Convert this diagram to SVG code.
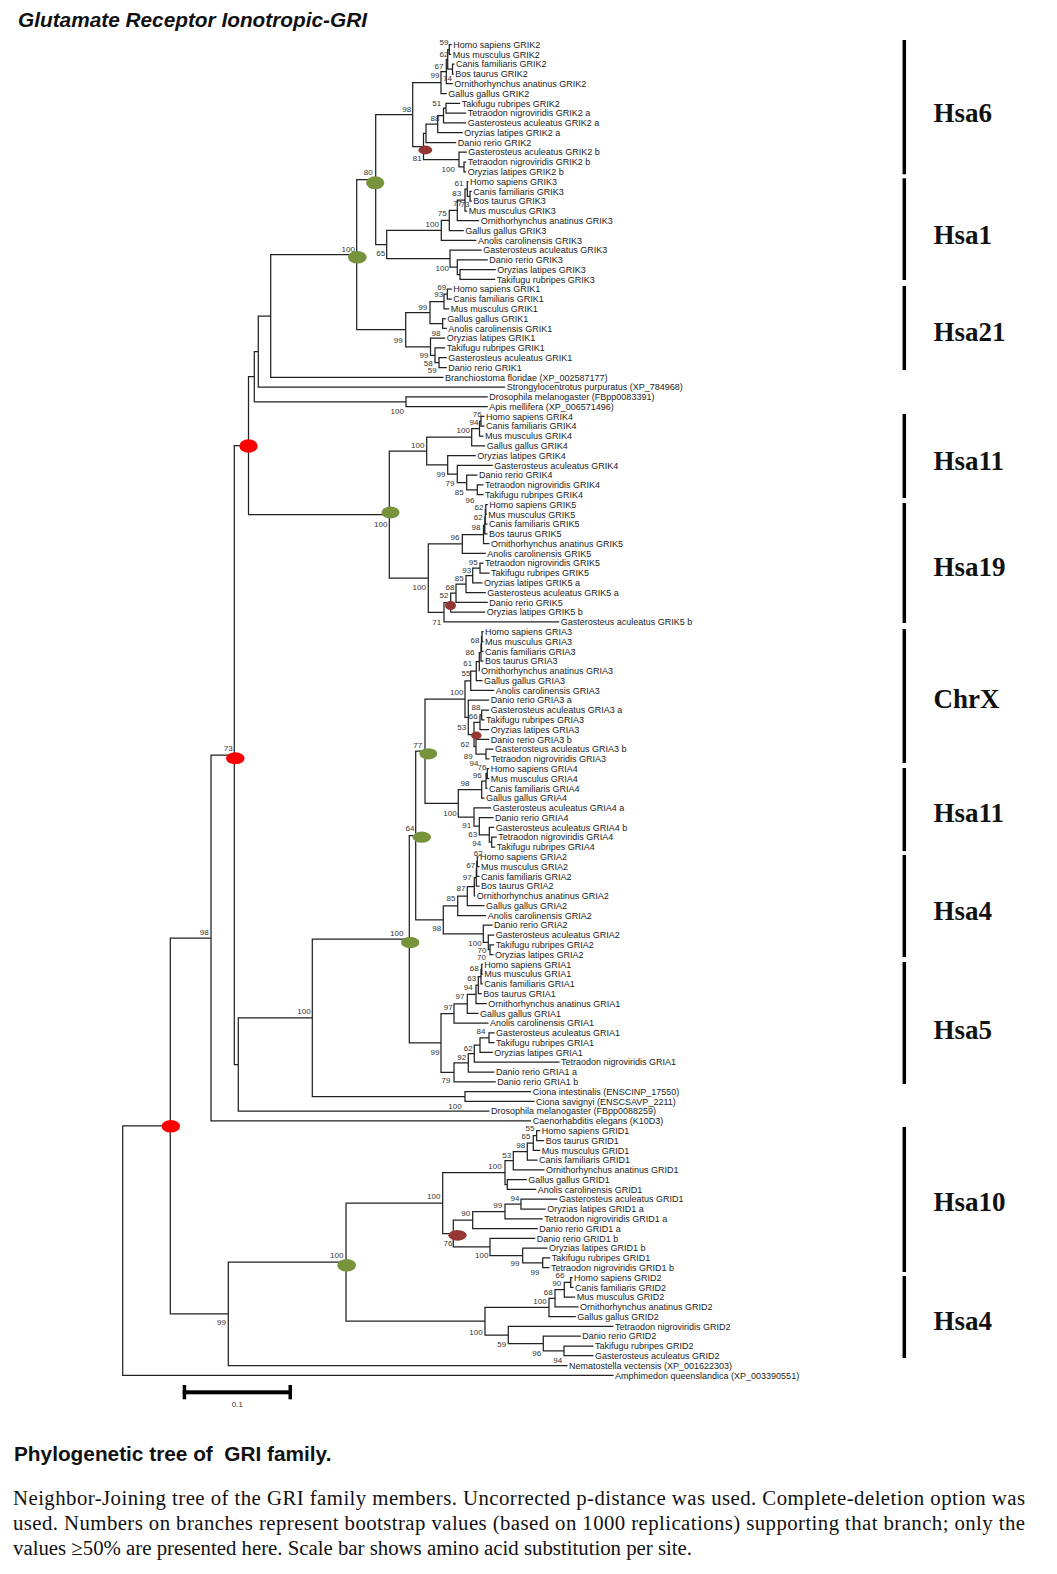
<svg xmlns="http://www.w3.org/2000/svg" width="1057" height="1574" viewBox="0 0 1057 1574">
<style>
.br{fill:none;stroke:#222;stroke-width:1.25}
.lf{font-family:"Liberation Sans",Arial,sans-serif;font-size:9px;fill:#222}
.bs{font-family:"Liberation Sans",Arial,sans-serif;font-size:8px;fill:#333;text-anchor:middle}
.chr{font-family:"Liberation Serif","Times New Roman",serif;font-size:27px;font-weight:bold;fill:#111}
.bar{stroke:#000;stroke-width:3.5}
.g{fill:#77933C}.r{fill:#FF0000}.b{fill:#943634}
.cap{font-family:"Liberation Serif","Times New Roman",serif;font-size:20.8px;fill:#111}
</style>
<rect width="1057" height="1574" fill="#fff"/>
<text x="18" y="27" font-family="Liberation Sans,Arial,sans-serif" font-size="20.8" font-weight="bold" font-style="italic" fill="#111">Glutamate Receptor Ionotropic-GRI</text>
<g id="connectors" class="br">
<path d="M451.8,44.6H449.3V54.4H451.2M454.5,64.2H452.5V74H453.8M449.3,49.5H447.7V69.1H452.5M447.7,59.3H446.3V83.7H452.8M446.3,71.5H441V93.5H446.8M460.2,103.3H446V113.1H466.2M446,108.2H443.5V122.9H466.2M443.5,115.6H437.7V132.7H462.8M437.7,124.2H426V142.5H456.2M466.2,162H464V171.8H466.2M466.8,152.2H459V166.9H464M426,133.3H423.5V159.6H459M441,82.5H412.7V146.5H423.5"/>
<path d="M471.8,191.4H470V201.2H471.8M468.5,181.6H467.3V196.3H470M467.3,189H465V211H467.2M465,200H457.3V220.7H479.2M457.3,210.4H449.3V230.5H463.8M449.3,220.4H441.3V240.3H476.5M495.8,269.7H460V279.4H495.2M487.8,259.9H457.3V274.6H460M481.8,250.1H450V267.2H457.3M441.3,230.4H386.7V258.7H450M412.7,114.5H375.7V244.5H386.7"/>
<path d="M451.8,289.2H447.3V299H451.8M447.3,294.1H444V308.8H449.2M445.8,318.6H442.7V328.4H446.8M444,301.5H430V323.5H442.7M446.8,357.7H439V367.5H446.8M445.2,347.9H435V362.6H439M445.2,338.2H430.5V355.3H435M430,312.5H405.7V346.8H430.5M375.7,179.5H356.7V329.6H405.7M356.7,254.6H270.7V377.3H443.5M270.7,316H258.3V387.1H505.2M487.8,396.9H406V406.7H487.8M258.3,351.5H254.3V401.8H406M254.3,376.7H248.5V514.6H389.3"/>
<path d="M484.5,416.4H481V426.2H484.5M481,421.3H479.5V436H483.5M479.5,428.7H471.7V445.8H485.2M483.5,484.9H477.3V494.7H483.5M477.5,475.2H466.7V489.8H477.3M492.8,465.4H457.3V482.5H466.7M475.8,455.6H447.7V474H457.3M471.7,437.2H426.7V464.8H447.7"/>
<path d="M487.8,504.5H485.8V514.3H486.8M485.8,509.4H485.3V524.1H487.5M485.3,516.8H484.8V533.9H487.5M484.8,525.3H483.5V543.6H489.5M483.5,534.5H462.3V553.4H485.8M483.5,563.2H480V573H489.5M480,568.1H472.7V582.8H482.5M472.7,575.5H466V592.6H485.8M466,584H456V602.4H487.8M456,593.2H450.7V612.1H485.2M450.7,602.7H444V621.9H559.2M462.3,543.9H428.3V612.3H444M426.7,451H389.3V578.1H428.3"/>
<path d="M483.5,631.7H482V641.5H483.5M482,636.6H481.5V651.3H483.5M481.5,644H481V661.1H483.5M481,652.5H479.3V670.8H479.5M479.3,661.7H476.3V680.6H482.5M476.3,671.1H470.7V690.4H494.2M489.2,710H481.7V719.8H484.5M481.7,714.9H480V729.6H489.2M493.5,749.1H486V758.9H489.5M489.2,739.3H476V754H486M480,722.3H474V746.7H476M489.2,700.2H468.3V734.5H474M470.7,680.8H465V717.3H468.3"/>
<path d="M489.2,768.7H487.3V778.5H489.2M487.3,773.6H486V788.3H487.5M486,781H481.7V798H484.5M496.8,837.2H491.7V847H495.2M494.2,827.4H489.3V842.1H491.7M493.5,817.6H479.3V834.8H489.3M491.2,807.8H474V826.2H479.3M481.7,789.5H458.3V817H474M465,699H425V803.3H458.3"/>
<path d="M478.5,856.8H477.3V866.5H479.5M477.3,861.7H476.7V876.3H479.5M476.7,869H476.3V886.1H479.5M476.3,877.6H474.3V895.9H475.2M474.3,886.7H467.3V905.7H484.5M467.3,896.2H457.7V915.5H486.2M494.2,944.8H490V954.6H493.5M494.2,935H488.3V949.7H490M492.5,925.2H483.3V942.4H488.3M457.7,905.9H443.3V933.8H483.3M425,751.1H415.7V919.8H443.3"/>
<path d="M482.8,964.4H481.7V974.2H482.8M481.7,969.3H481V983.9H482.8M481,976.6H478.3V993.7H481.8M478.3,985.2H476V1003.5H486.8M476,994.3H467.3V1013.3H478.5M467.3,1003.8H454V1023.1H488.5M494.5,1032.9H489V1042.7H494.5M489,1037.8H480V1052.4H492.8M480,1045.1H474.3V1062.2H559.5M474.3,1053.7H468.3V1072H494.5M468.3,1062.8H454V1081.8H495.8M454,1013.5H441V1072.3H454M415.7,835.5H409.3V1042.9H441M531.2,1091.6H465V1101.4H534.5M409.3,939.2H312.3V1096.5H465M312.3,1017.9H238.3V1111.1H489.5M248.5,445.6H234.3V1064.5H238.3M234.3,755.1H211V1120.9H531.2"/>
<path d="M540.2,1130.7H536.7V1140.5H544.2M536.7,1135.6H533.3V1150.3H540.2M533.3,1143H527.3V1160.1H537.5M527.3,1151.5H513.3V1169.8H544.5M526.8,1179.6H507.3V1189.4H536.2M513.3,1160.7H505V1184.5H507.3M557.5,1199.2H521V1209H545.8M521,1204.1H505V1218.8H542.8M505,1211.5H472.7V1228.5H537.8M550.2,1257.9H542.7V1267.7H549.5M547.5,1248.1H522.7V1262.8H542.7M535.2,1238.3H490V1255.5H522.7M472.7,1220H453.3V1246.9H490M505,1172.6H442.7V1233.5H453.3"/>
<path d="M572.5,1277.5H570.7V1287.3H573.5M570.7,1282.4H564.3V1297H575.2M564.3,1289.7H555V1306.8H578.5M555,1298.3H549V1316.6H575.8M593.5,1346H564V1355.7H593.5M580.8,1336.2H543.3V1350.9H564M613.5,1326.4H508.3V1343.5H543.3M549,1307.4H485V1335H508.3M442.7,1203H346V1321.2H485M346,1262.1H228.3V1365.5H567.5M211,938H170.3V1313.8H228.3M170.3,1125.9H122.7V1375.3H613.5"/>
</g>
<g id="node-markers">
<ellipse class="g" cx="375.2" cy="182.8" rx="9.2" ry="6.5"/>
<ellipse class="g" cx="357.3" cy="257.3" rx="9.3" ry="6.3"/>
<ellipse class="b" cx="425.3" cy="150" rx="7" ry="4.4"/>
<ellipse class="r" cx="248.5" cy="446" rx="9.2" ry="6.7"/>
<ellipse class="g" cx="390.5" cy="512.5" rx="9" ry="6"/>
<ellipse class="b" cx="450.5" cy="605.5" rx="5.5" ry="4.5"/>
<ellipse class="r" cx="235.3" cy="758.3" rx="9.3" ry="6"/>
<ellipse class="g" cx="428.3" cy="753.8" rx="9" ry="5.6"/>
<ellipse class="b" cx="476.3" cy="735.5" rx="5.3" ry="3.9"/>
<ellipse class="g" cx="421.8" cy="837.2" rx="9.2" ry="5.6"/>
<ellipse class="g" cx="410.2" cy="942.5" rx="9.2" ry="5.8"/>
<ellipse class="r" cx="170.8" cy="1126.3" rx="9.2" ry="6.3"/>
<ellipse class="b" cx="457.5" cy="1235.3" rx="9.2" ry="5.4"/>
<ellipse class="g" cx="346.7" cy="1265.3" rx="9.3" ry="6.3"/>
</g>
<g id="bootstrap" class="bs">
<text x="444" y="44.6">59</text><text x="444" y="56.9">62</text><text x="439" y="68.6">67</text><text x="435" y="77.9">99</text><text x="447.5" y="81.2">74</text><text x="406.7" y="111.9">98</text><text x="436.7" y="106.2">51</text><text x="435" y="121.2">88</text><text x="417.3" y="160.6">81</text><text x="448.3" y="172.2">100</text><text x="368.3" y="174.6">80</text>
<text x="459" y="185.6">61</text><text x="456.7" y="195.6">83</text><text x="457.5" y="205.6">77</text><text x="465" y="207.4">73</text><text x="442.3" y="216.2">75</text><text x="432.3" y="226.9">100</text><text x="380.7" y="256.2">65</text><text x="442.3" y="270.6">100</text><text x="348.3" y="251.9">100</text>
<text x="441.7" y="290.2">69</text><text x="438.7" y="296.9">93</text><text x="422.7" y="309.6">99</text><text x="436" y="335.6">98</text><text x="398.3" y="342.9">99</text><text x="424" y="357.9">99</text><text x="428.3" y="365.6">58</text><text x="432.3" y="372.9">59</text><text x="397.3" y="414.2">100</text>
<text x="477.3" y="417.2">76</text><text x="474" y="424.6">94</text><text x="463.3" y="432.9">100</text><text x="417.7" y="447.6">100</text><text x="441" y="477.2">99</text><text x="450" y="486.2">79</text><text x="459.3" y="495.2">85</text><text x="470" y="502.9">96</text>
<text x="479" y="509.6">62</text><text x="478.3" y="519.6">62</text><text x="476" y="529.6">98</text><text x="455" y="539.6">96</text><text x="380.7" y="526.6">100</text><text x="473.3" y="564.6">95</text><text x="466.7" y="572.9">93</text><text x="459.3" y="580.6">85</text><text x="450" y="590.2">68</text><text x="444" y="597.9">52</text><text x="419.3" y="590.2">100</text><text x="436.7" y="624.6">71</text>
<text x="228.3" y="751.2">73</text>
<text x="475" y="642.9">68</text><text x="470" y="655.2">86</text><text x="467.7" y="665.6">61</text><text x="466" y="676.2">55</text><text x="456.7" y="694.6">100</text><text x="476" y="710.2">88</text><text x="473.3" y="718.6">66</text><text x="461.7" y="729.6">53</text><text x="465" y="746.9">62</text><text x="468.3" y="758.9">89</text><text x="417.8" y="747.6">77</text>
<text x="474" y="765.6">94</text><text x="482" y="770.2">76</text><text x="477.3" y="778.4">96</text><text x="465" y="785.6">98</text><text x="450" y="815.6">100</text><text x="466.7" y="827.9">91</text><text x="472.7" y="837.2">63</text><text x="476.7" y="845.6">94</text><text x="478.3" y="855.6">62</text><text x="410" y="831.2">64</text>
<text x="470.7" y="867.9">67</text><text x="467.3" y="879.6">97</text><text x="461" y="891.2">87</text><text x="451" y="901.2">85</text><text x="436.7" y="931.2">98</text><text x="396.7" y="936.2">100</text><text x="475" y="946.2">100</text><text x="482" y="952.6">70</text><text x="481.5" y="960.4">70</text>
<text x="474.3" y="970.6">68</text><text x="471.7" y="980.6">63</text><text x="468.3" y="989.6">94</text><text x="460" y="998.6">97</text><text x="448.3" y="1009.6">97</text><text x="481" y="1033.9">84</text><text x="468.3" y="1050.6">62</text><text x="461.7" y="1059.6">92</text><text x="435" y="1054.6">99</text><text x="446" y="1082.9">79</text>
<text x="204.3" y="934.6">98</text><text x="304" y="1013.6">100</text><text x="455" y="1108.9">100</text>
<text x="530" y="1131.2">55</text><text x="526" y="1138.9">65</text><text x="520.7" y="1147.9">98</text><text x="506.7" y="1157.9">53</text><text x="495" y="1168.9">100</text><text x="433.7" y="1198.9">100</text><text x="515" y="1201.2">94</text><text x="497.7" y="1207.9">99</text><text x="465.7" y="1216.2">90</text><text x="448" y="1245.9">76</text><text x="481.7" y="1257.9">100</text><text x="515" y="1266.2">99</text><text x="535" y="1274.6">99</text>
<text x="336.7" y="1257.9">100</text>
<text x="560" y="1277.9">66</text><text x="556.7" y="1286.2">90</text><text x="548.3" y="1294.6">68</text><text x="540" y="1303.6">100</text><text x="476" y="1334.6">100</text><text x="501.7" y="1347.2">59</text><text x="536.7" y="1355.6">96</text><text x="557.7" y="1362.9">94</text>
<text x="221.5" y="1325.4">99</text>
</g>
<g id="leaves" class="lf">
<text x="453.3" y="47.8">Homo sapiens GRIK2</text>
<text x="452.7" y="57.6">Mus musculus GRIK2</text>
<text x="456" y="67.4">Canis familiaris GRIK2</text>
<text x="455.3" y="77.2">Bos taurus GRIK2</text>
<text x="454.3" y="86.9">Ornithorhynchus anatinus GRIK2</text>
<text x="448.3" y="96.7">Gallus gallus GRIK2</text>
<text x="461.7" y="106.5">Takifugu rubripes GRIK2</text>
<text x="467.7" y="116.3">Tetraodon nigroviridis GRIK2 a</text>
<text x="467.7" y="126.1">Gasterosteus aculeatus GRIK2 a</text>
<text x="464.3" y="135.9">Oryzias latipes GRIK2 a</text>
<text x="457.7" y="145.7">Danio rerio GRIK2</text>
<text x="468.3" y="155.4">Gasterosteus aculeatus GRIK2 b</text>
<text x="467.7" y="165.2">Tetraodon nigroviridis GRIK2 b</text>
<text x="467.7" y="175">Oryzias latipes GRIK2 b</text>
<text x="470" y="184.8">Homo sapiens GRIK3</text>
<text x="473.3" y="194.6">Canis familiaris GRIK3</text>
<text x="473.3" y="204.4">Bos taurus GRIK3</text>
<text x="468.7" y="214.2">Mus musculus GRIK3</text>
<text x="480.7" y="223.9">Ornithorhynchus anatinus GRIK3</text>
<text x="465.3" y="233.7">Gallus gallus GRIK3</text>
<text x="478" y="243.5">Anolis carolinensis GRIK3</text>
<text x="483.3" y="253.3">Gasterosteus aculeatus GRIK3</text>
<text x="489.3" y="263.1">Danio rerio GRIK3</text>
<text x="497.3" y="272.9">Oryzias latipes GRIK3</text>
<text x="496.7" y="282.6">Takifugu rubripes GRIK3</text>
<text x="453.3" y="292.4">Homo sapiens GRIK1</text>
<text x="453.3" y="302.2">Canis familiaris GRIK1</text>
<text x="450.7" y="312">Mus musculus GRIK1</text>
<text x="447.3" y="321.8">Gallus gallus GRIK1</text>
<text x="448.3" y="331.6">Anolis carolinensis GRIK1</text>
<text x="446.7" y="341.4">Oryzias latipes GRIK1</text>
<text x="446.7" y="351.1">Takifugu rubripes GRIK1</text>
<text x="448.3" y="360.9">Gasterosteus aculeatus GRIK1</text>
<text x="448.3" y="370.7">Danio rerio GRIK1</text>
<text x="445" y="380.5">Branchiostoma floridae (XP_002587177)</text>
<text x="506.7" y="390.3">Strongylocentrotus purpuratus (XP_784968)</text>
<text x="489.3" y="400.1">Drosophila melanogaster (FBpp0083391)</text>
<text x="489.3" y="409.9">Apis mellifera (XP_006571496)</text>
<text x="486" y="419.6">Homo sapiens GRIK4</text>
<text x="486" y="429.4">Canis familiaris GRIK4</text>
<text x="485" y="439.2">Mus musculus GRIK4</text>
<text x="486.7" y="449">Gallus gallus GRIK4</text>
<text x="477.3" y="458.8">Oryzias latipes GRIK4</text>
<text x="494.3" y="468.6">Gasterosteus aculeatus GRIK4</text>
<text x="479" y="478.4">Danio rerio GRIK4</text>
<text x="485" y="488.1">Tetraodon nigroviridis GRIK4</text>
<text x="485" y="497.9">Takifugu rubripes GRIK4</text>
<text x="489.3" y="507.7">Homo sapiens GRIK5</text>
<text x="488.3" y="517.5">Mus musculus GRIK5</text>
<text x="489" y="527.3">Canis familiaris GRIK5</text>
<text x="489" y="537.1">Bos taurus GRIK5</text>
<text x="491" y="546.8">Ornithorhynchus anatinus GRIK5</text>
<text x="487.3" y="556.6">Anolis carolinensis GRIK5</text>
<text x="485" y="566.4">Tetraodon nigroviridis GRIK5</text>
<text x="491" y="576.2">Takifugu rubripes GRIK5</text>
<text x="484" y="586">Oryzias latipes GRIK5 a</text>
<text x="487.3" y="595.8">Gasterosteus aculeatus GRIK5 a</text>
<text x="489.3" y="605.6">Danio rerio GRIK5</text>
<text x="486.7" y="615.3">Oryzias latipes GRIK5 b</text>
<text x="560.7" y="625.1">Gasterosteus aculeatus GRIK5 b</text>
<text x="485" y="634.9">Homo sapiens GRIA3</text>
<text x="485" y="644.7">Mus musculus GRIA3</text>
<text x="485" y="654.5">Canis familiaris GRIA3</text>
<text x="485" y="664.3">Bos taurus GRIA3</text>
<text x="481" y="674">Ornithorhynchus anatinus GRIA3</text>
<text x="484" y="683.8">Gallus gallus GRIA3</text>
<text x="495.7" y="693.6">Anolis carolinensis GRIA3</text>
<text x="490.7" y="703.4">Danio rerio GRIA3 a</text>
<text x="490.7" y="713.2">Gasterosteus aculeatus GRIA3 a</text>
<text x="486" y="723">Takifugu rubripes GRIA3</text>
<text x="490.7" y="732.8">Oryzias latipes GRIA3</text>
<text x="490.7" y="742.5">Danio rerio GRIA3 b</text>
<text x="495" y="752.3">Gasterosteus aculeatus GRIA3 b</text>
<text x="491" y="762.1">Tetraodon nigroviridis GRIA3</text>
<text x="490.7" y="771.9">Homo sapiens GRIA4</text>
<text x="490.7" y="781.7">Mus musculus GRIA4</text>
<text x="489" y="791.5">Canis familiaris GRIA4</text>
<text x="486" y="801.2">Gallus gallus GRIA4</text>
<text x="492.7" y="811">Gasterosteus aculeatus GRIA4 a</text>
<text x="495" y="820.8">Danio rerio GRIA4</text>
<text x="495.7" y="830.6">Gasterosteus aculeatus GRIA4 b</text>
<text x="498.3" y="840.4">Tetraodon nigroviridis GRIA4</text>
<text x="496.7" y="850.2">Takifugu rubripes GRIA4</text>
<text x="480" y="860">Homo sapiens GRIA2</text>
<text x="481" y="869.7">Mus musculus GRIA2</text>
<text x="481" y="879.5">Canis familiaris GRIA2</text>
<text x="481" y="889.3">Bos taurus GRIA2</text>
<text x="476.7" y="899.1">Ornithorhynchus anatinus GRIA2</text>
<text x="486" y="908.9">Gallus gallus GRIA2</text>
<text x="487.7" y="918.7">Anolis carolinensis GRIA2</text>
<text x="494" y="928.4">Danio rerio GRIA2</text>
<text x="495.7" y="938.2">Gasterosteus aculeatus GRIA2</text>
<text x="495.7" y="948">Takifugu rubripes GRIA2</text>
<text x="495" y="957.8">Oryzias latipes GRIA2</text>
<text x="484.3" y="967.6">Homo sapiens GRIA1</text>
<text x="484.3" y="977.4">Mus musculus GRIA1</text>
<text x="484.3" y="987.1">Canis familiaris GRIA1</text>
<text x="483.3" y="996.9">Bos taurus GRIA1</text>
<text x="488.3" y="1006.7">Ornithorhynchus anatinus GRIA1</text>
<text x="480" y="1016.5">Gallus gallus GRIA1</text>
<text x="490" y="1026.3">Anolis carolinensis GRIA1</text>
<text x="496" y="1036.1">Gasterosteus aculeatus GRIA1</text>
<text x="496" y="1045.9">Takifugu rubripes GRIA1</text>
<text x="494.3" y="1055.6">Oryzias latipes GRIA1</text>
<text x="561" y="1065.4">Tetraodon nigroviridis GRIA1</text>
<text x="496" y="1075.2">Danio rerio GRIA1 a</text>
<text x="497.3" y="1085">Danio rerio GRIA1 b</text>
<text x="532.7" y="1094.8">Ciona intestinalis (ENSCINP_17550)</text>
<text x="536" y="1104.6">Ciona savignyi (ENSCSAVP_2211)</text>
<text x="491" y="1114.3">Drosophila melanogaster (FBpp0088259)</text>
<text x="532.7" y="1124.1">Caenorhabditis elegans (K10D3)</text>
<text x="541.7" y="1133.9">Homo sapiens GRID1</text>
<text x="545.7" y="1143.7">Bos taurus GRID1</text>
<text x="541.7" y="1153.5">Mus musculus GRID1</text>
<text x="539" y="1163.3">Canis familiaris GRID1</text>
<text x="546" y="1173">Ornithorhynchus anatinus GRID1</text>
<text x="528.3" y="1182.8">Gallus gallus GRID1</text>
<text x="537.7" y="1192.6">Anolis carolinensis GRID1</text>
<text x="559" y="1202.4">Gasterosteus aculeatus GRID1</text>
<text x="547.3" y="1212.2">Oryzias latipes GRID1 a</text>
<text x="544.3" y="1222">Tetraodon nigroviridis GRID1 a</text>
<text x="539.3" y="1231.7">Danio rerio GRID1 a</text>
<text x="536.7" y="1241.5">Danio rerio GRID1 b</text>
<text x="549" y="1251.3">Oryzias latipes GRID1 b</text>
<text x="551.7" y="1261.1">Takifugu rubripes GRID1</text>
<text x="551" y="1270.9">Tetraodon nigroviridis GRID1 b</text>
<text x="574" y="1280.7">Homo sapiens GRID2</text>
<text x="575" y="1290.5">Canis familiaris GRID2</text>
<text x="576.7" y="1300.2">Mus musculus GRID2</text>
<text x="580" y="1310">Ornithorhynchus anatinus GRID2</text>
<text x="577.3" y="1319.8">Gallus gallus GRID2</text>
<text x="615" y="1329.6">Tetraodon nigroviridis GRID2</text>
<text x="582.3" y="1339.4">Danio rerio GRID2</text>
<text x="595" y="1349.2">Takifugu rubripes GRID2</text>
<text x="595" y="1358.9">Gasterosteus aculeatus GRID2</text>
<text x="569" y="1368.7">Nematostella vectensis (XP_001622303)</text>
<text x="615" y="1378.5">Amphimedon queenslandica (XP_003390551)</text>
</g>
<g id="chromosome-bars">
<line class="bar" x1="904.3" y1="40" x2="904.3" y2="174.3"/>
<line class="bar" x1="904.3" y1="178.3" x2="904.3" y2="280"/>
<line class="bar" x1="904.3" y1="286" x2="904.3" y2="370"/>
<line class="bar" x1="904.3" y1="414" x2="904.3" y2="498"/>
<line class="bar" x1="904.3" y1="503" x2="904.3" y2="623"/>
<line class="bar" x1="904.3" y1="629" x2="904.3" y2="763"/>
<line class="bar" x1="904.3" y1="768" x2="904.3" y2="851"/>
<line class="bar" x1="904.3" y1="855" x2="904.3" y2="957"/>
<line class="bar" x1="904.3" y1="962" x2="904.3" y2="1084"/>
<line class="bar" x1="904.3" y1="1127" x2="904.3" y2="1272"/>
<line class="bar" x1="904.3" y1="1276" x2="904.3" y2="1358"/>
</g>
<g id="chromosome-labels" class="chr">
<text x="933.5" y="122">Hsa6</text>
<text x="933.5" y="244">Hsa1</text>
<text x="933.5" y="340.5">Hsa21</text>
<text x="933.5" y="470">Hsa11</text>
<text x="933.5" y="575.5">Hsa19</text>
<text x="933.5" y="708">ChrX</text>
<text x="933.5" y="822">Hsa11</text>
<text x="933.5" y="920">Hsa4</text>
<text x="933.5" y="1038.5">Hsa5</text>
<text x="933.5" y="1211">Hsa10</text>
<text x="933.5" y="1329.5">Hsa4</text>
</g>
<g id="scale-bar">
<rect x="182.7" y="1390.3" width="109.3" height="4" fill="#000"/>
<rect x="182.7" y="1385" width="3.5" height="14.3" fill="#000"/>
<rect x="288.5" y="1385" width="3.5" height="14.3" fill="#000"/>
<text x="237.3" y="1407" font-family="Liberation Sans,Arial,sans-serif" font-size="8" fill="#333" text-anchor="middle">0.1</text>
</g>
<g id="caption">
<text x="14" y="1460.5" font-family="Liberation Sans,Arial,sans-serif" font-size="20.8" font-weight="bold" fill="#111" xml:space="preserve">Phylogenetic tree of  GRI family.</text>
<text class="cap" x="13" y="1504.5" textLength="1012" lengthAdjust="spacing">Neighbor-Joining tree of the GRI family members. Uncorrected p-distance was used. Complete-deletion option was</text>
<text class="cap" x="13" y="1529.5" textLength="1012" lengthAdjust="spacing">used. Numbers on branches represent bootstrap values (based on 1000 replications) supporting that branch; only the</text>
<text class="cap" x="13" y="1554.5">values ≥50% are presented here. Scale bar shows amino acid substitution per site.</text>
</g>
</svg>
